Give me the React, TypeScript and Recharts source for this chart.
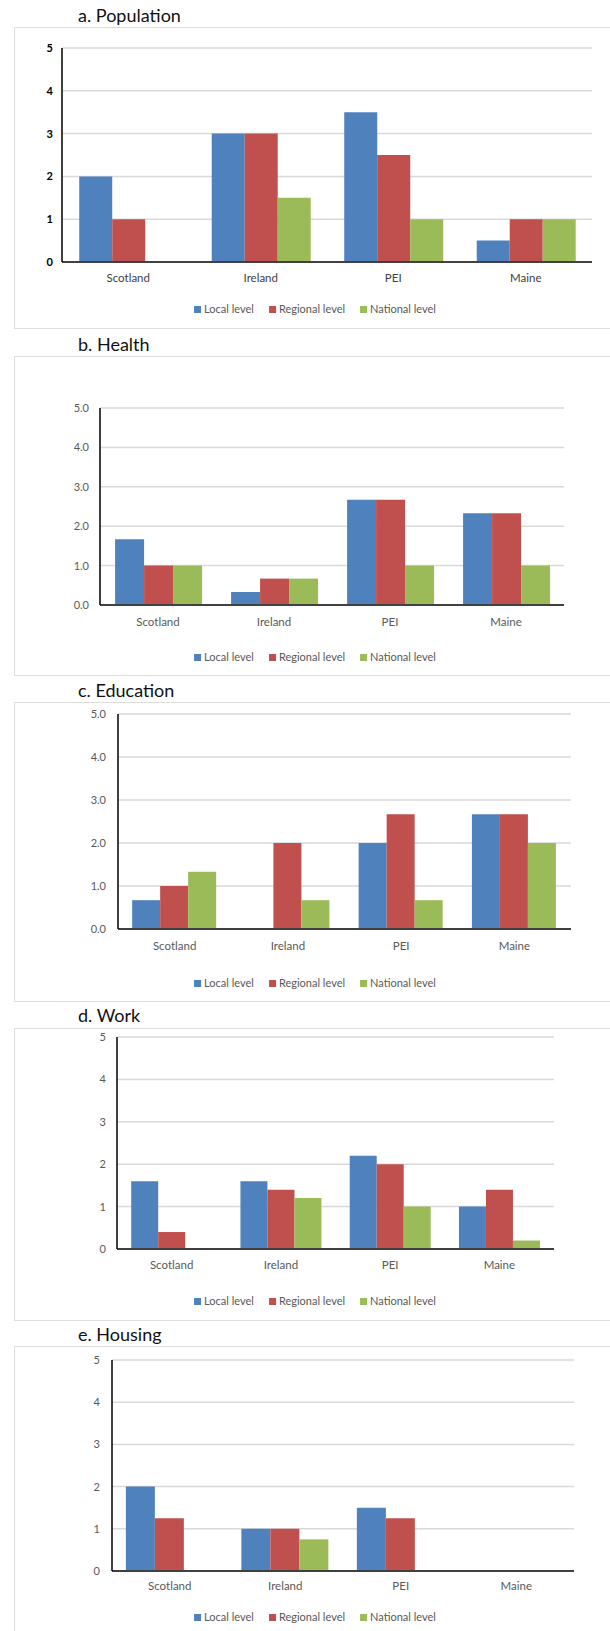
import React from 'react';
import { BarChart, Bar, XAxis, YAxis, CartesianGrid } from 'recharts';

const categories = ['Scotland', 'Ireland', 'PEI', 'Maine'];
const seriesNames = ['Local level', 'Regional level', 'National level'];
const seriesKeys = ['local', 'regional', 'national'];
const seriesColors = ['#4F81BD', '#C0504D', '#9BBB59'];
const yTicks = [0, 1, 2, 3, 4, 5];

const populationLocal = [2, 3, 3.5, 0.5];
const populationRegional = [1, 3, 2.5, 1];
const populationNational = [0, 1.5, 1, 1];

const healthLocal = [1.67, 0.33, 2.67, 2.33];
const healthRegional = [1, 0.67, 2.67, 2.33];
const healthNational = [1, 0.67, 1, 1];

const educationLocal = [0.67, 0, 2, 2.67];
const educationRegional = [1, 2, 2.67, 2.67];
const educationNational = [1.33, 0.67, 0.67, 2];

const workLocal = [1.6, 1.6, 2.2, 1];
const workRegional = [0.4, 1.4, 2, 1.4];
const workNational = [0, 1.2, 1, 0.2];

const housingLocal = [2, 1, 1.5, 0];
const housingRegional = [1.25, 1, 1.25, 0];
const housingNational = [0, 0.75, 0, 0];

const titles = ['a. Population', 'b. Health', 'c. Education', 'd. Work', 'e. Housing'];

function buildRows(l: number[], r: number[], n: number[]) {
  return categories.map((c, i) => ({ category: c, local: l[i], regional: r[i], national: n[i] }));
}

const panelData = [
  buildRows(populationLocal, populationRegional, populationNational),
  buildRows(healthLocal, healthRegional, healthNational),
  buildRows(educationLocal, educationRegional, educationNational),
  buildRows(workLocal, workRegional, workNational),
  buildRows(housingLocal, housingRegional, housingNational),
];

const FONT = 'Lato, "Open Sans", sans-serif';

type Layout = {
  titleY: number;
  boxTop: number;
  boxBottom: number;
  left: number;
  right: number;
  top: number;
  bottom: number;
  decimals: number;
  bold: boolean;
  yGap: number;
  xGap: number;
  legendY: number;
  gap: string;
};

const layouts: Layout[] = [
  { titleY: 15, boxTop: 27, boxBottom: 329, left: 62, right: 592, top: 48, bottom: 262, decimals: 0, bold: true, yGap: 9, xGap: 12, legendY: 309, gap: '13%' },
  { titleY: 344, boxTop: 356, boxBottom: 676, left: 100, right: 564, top: 408, bottom: 605, decimals: 1, bold: false, yGap: 11, xGap: 13, legendY: 657, gap: '13%' },
  { titleY: 690, boxTop: 702, boxBottom: 1002, left: 118, right: 571, top: 714, bottom: 929, decimals: 1, bold: false, yGap: 12, xGap: 13, legendY: 983, gap: '12.5%' },
  { titleY: 1015, boxTop: 1028, boxBottom: 1321, left: 117, right: 554, top: 1037, bottom: 1249, decimals: 0, bold: false, yGap: 11, xGap: 12, legendY: 1301, gap: '13%' },
  { titleY: 1334, boxTop: 1346, boxBottom: 1660, left: 112, right: 574, top: 1360, bottom: 1571, decimals: 0, bold: false, yGap: 12, xGap: 11, legendY: 1617, gap: '12%' },
];

function LegendBox({ y }: { y: number }) {
  return (
    <div
      style={{
        position: 'absolute',
        left: 315,
        top: y - 8,
        transform: 'translateX(-50%)',
        display: 'flex',
        alignItems: 'center',
        whiteSpace: 'nowrap',
        fontFamily: FONT,
        fontSize: 11,
        lineHeight: '16px',
        color: '#595959',
      }}
    >
      {seriesNames.map((name, i) => (
        <span key={name} style={{ display: 'flex', alignItems: 'center', marginRight: i < 2 ? 15 : 0 }}>
          <span style={{ display: 'inline-block', width: 7, height: 7, background: seriesColors[i], marginRight: 3 }} />
          {name}
        </span>
      ))}
    </div>
  );
}

function Panel({ idx }: { idx: number }) {
  const L = layouts[idx];
  const mTop = 12;
  const xAxisH = 30;
  const plotH = L.bottom - L.top;
  const chartH = mTop + plotH + xAxisH;
  const tickFill = L.bold ? '#000' : '#595959';
  return (
    <>
      <div
        style={{
          position: 'absolute',
          left: 14,
          top: L.boxTop,
          width: 620,
          height: L.boxBottom - L.boxTop,
          border: '1.5px solid #dedede',
          boxSizing: 'border-box',
        }}
      />
      <div
        style={{
          position: 'absolute',
          left: 78,
          top: L.titleY - 12,
          fontFamily: FONT,
          fontSize: 18,
          lineHeight: '24px',
          color: '#111',
          whiteSpace: 'nowrap',
        }}
      >
        {titles[idx]}
      </div>
      <div style={{ position: 'absolute', left: 0, top: L.top - mTop }}>
        <BarChart
          width={610}
          height={chartH}
          data={panelData[idx]}
          margin={{ top: mTop, right: 610 - L.right, bottom: 0, left: 0 }}
          barCategoryGap={L.gap}
          barGap={0}
        >
          <CartesianGrid vertical={false} stroke="#d9d9d9" strokeWidth={1.5} />
          <XAxis
            dataKey="category"
            height={xAxisH}
            tickLine={false}
            tickSize={0}
            tickMargin={L.xGap}
            axisLine={{ stroke: '#404040', strokeWidth: 2 }}
            tick={{ fill: L.bold ? '#404040' : '#595959', fontSize: 11.5, fontFamily: FONT }}
            interval={0}
          />
          <YAxis
            width={L.left}
            domain={[0, 5]}
            ticks={yTicks}
            interval={0}
            tickLine={false}
            tickSize={0}
            tickMargin={L.yGap}
            axisLine={{ stroke: '#000', strokeWidth: 1.5 }}
            tickFormatter={(v: number) => v.toFixed(L.decimals)}
            tick={{ fill: tickFill, fontSize: 11, fontWeight: L.bold ? 700 : 400, fontFamily: FONT }}
          />
          {seriesKeys.map((k, i) => (
            <Bar key={k} dataKey={k} name={seriesNames[i]} fill={seriesColors[i]} isAnimationActive={false} />
          ))}
        </BarChart>
      </div>
      <LegendBox y={L.legendY} />
    </>
  );
}

export default function App() {
  return (
    <div style={{ position: 'absolute', left: 0, top: 0, width: 610, height: 1631, overflow: 'hidden', background: '#fff' }}>
      {titles.map((t, i) => (
        <Panel key={t} idx={i} />
      ))}
    </div>
  );
}
